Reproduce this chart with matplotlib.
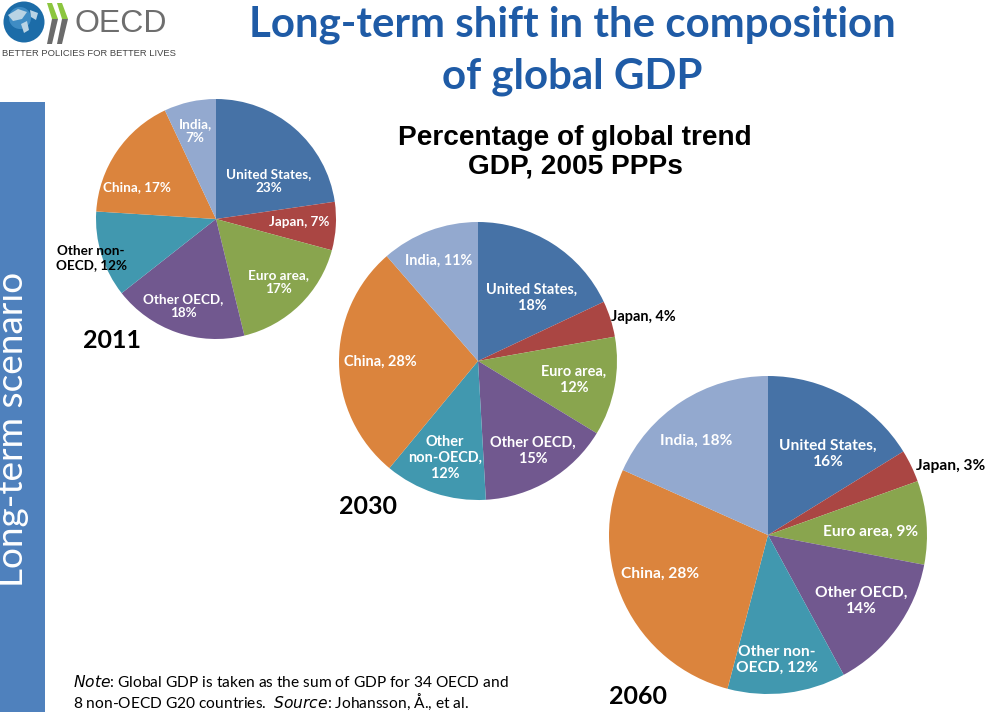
#!/usr/bin/env python3
"""Long-term shift in the composition of global GDP - slide with three pies."""
import matplotlib
matplotlib.use('Agg')
import matplotlib.pyplot as plt
from matplotlib.patches import Circle, Polygon, Rectangle

W, H = 1007, 712

plt.rcParams['font.family'] = ['Lato', 'DejaVu Sans']

# Shares measured off the slices, the labels carry the rounded numbers
CATEGORIES = ["United States", "Japan", "Euro area", "Other OECD",
              "Other non-OECD", "China", "India"]
SHARES_2011 = [22.7, 6.5, 17.0, 18.2, 11.6, 17.0, 7.0]
SHARES_2030 = [18.0, 4.2, 11.5, 15.4, 11.9, 27.6, 11.4]
SHARES_2060 = [16.2, 3.3, 8.5, 14.1, 12.0, 27.6, 18.3]
COLORS = ["#4672A6", "#AA4643", "#89A54E", "#71588F",
          "#4198AF", "#DB843D", "#93A9CF"]

LABELS_2011 = ["United States,\n23%", "Japan, 7%", "Euro area,\n17%", "Other OECD,\n18%",
               "Other non-\nOECD, 12%", "China, 17%", "India,\n7%"]
LABELS_2030 = ["United States,\n18%", "Japan, 4%", "Euro area,\n12%", "Other OECD,\n15%",
               "Other\nnon-OECD,\n12%", "China, 28%", "India, 11%"]
LABELS_2060 = ["United States,\n16%", "Japan, 3%", "Euro area, 9%", "Other OECD,\n14%",
               "Other non-\nOECD, 12%", "China, 28%", "India, 18%"]


def py(y):
    # reference pixel row -> data y
    return H - y


def draw_pie(ax, shares, labels, cx, cy, radius, label_xy, font_px, dark=()):
    ax.pie(shares, colors=COLORS, startangle=90, counterclock=False,
           center=(cx, py(cy)), radius=radius,
           wedgeprops={'linewidth': 0})
    for i, (label, (x, y)) in enumerate(zip(labels, label_xy)):
        ax.text(x, py(y), label, ha='center', va='center', fontsize=font_px * 0.72,
                fontweight='bold', linespacing=1.22,
                color='black' if i in dark else 'white')


def draw_logo(ax):
    ax.add_patch(Circle((24, py(22)), 20.5, facecolor='#1C6CA8', edgecolor='none'))
    ax.add_patch(Circle((20, py(18)), 11, facecolor='#3F8CC4', edgecolor='none'))
    land = [[(8, 15), (18, 9), (27, 12), (22, 19), (13, 21)],
            [(21, 24), (27, 21), (29, 30), (24, 33)],
            [(30, 10), (38, 13), (36, 20), (31, 17)]]
    for pts in land:
        ax.add_patch(Polygon([(x, py(y)) for x, y in pts], facecolor='#B9D3E4', edgecolor='none'))
    for dx in (0, 10):
        ax.add_patch(Polygon([(x + dx, py(y)) for x, y in [(47, 3), (52, 3), (58, 19), (52, 19)]],
                             facecolor='#8CC63F', edgecolor='none'))
        ax.add_patch(Polygon([(x + dx, py(y)) for x, y in [(52, 19), (58, 19), (52, 44), (47, 44)]],
                             facecolor='#6B6B6B', edgecolor='none'))
    ax.text(74, py(24), "OECD", ha='left', va='center', fontsize=32 * 0.72,
            color='#6E6E6E', family=['Liberation Sans', 'DejaVu Sans'])
    ax.text(2, py(53), "BETTER POLICIES FOR BETTER LIVES", ha='left', va='center',
            fontsize=9.4 * 0.72, color='#444444', family=['Liberation Sans', 'DejaVu Sans'])


def main():
    fig = plt.figure(figsize=(W / 100, H / 100), dpi=100, facecolor='white')
    ax = fig.add_axes([0, 0, 1, 1])

    draw_pie(ax, SHARES_2011, LABELS_2011, 216, 219, 120,
             [(269, 181), (299, 222), (278, 282), (183, 306),
              (91, 258), (137, 187), (195, 131)], 13.5, dark=(4,))
    draw_pie(ax, SHARES_2030, LABELS_2030, 478, 361, 139,
             [(532, 298), (643, 317), (574, 380), (533, 451),
              (445, 458), (380, 362), (439, 261)], 14.5, dark=(1,))
    draw_pie(ax, SHARES_2060, LABELS_2060, 768, 535, 159,
             [(828, 454), (951, 466), (871, 532), (861, 601),
              (777, 660), (660, 574), (696, 441)], 15.5, dark=(1,))

    # Left band
    ax.add_patch(Rectangle((0, 0), 45, py(102), facecolor='#4F81BD', edgecolor='none'))
    ax.text(13, py(429), "Long-term scenario", rotation=90, ha='center', va='center',
            color='white', fontsize=37 * 0.72)

    draw_logo(ax)

    ax.text(572, py(25), "Long-term shift in the composition", ha='center', va='center',
            fontsize=42 * 0.72, fontweight='bold', color='#1F5BA6')
    ax.text(572, py(77), "of global GDP", ha='center', va='center',
            fontsize=42 * 0.72, fontweight='bold', color='#1F5BA6')

    ax.text(575, py(152), "Percentage of global trend\nGDP, 2005 PPPs", ha='center', va='center',
            fontsize=28 * 0.72, fontweight='bold', color='black', linespacing=1.13,
            family=['Liberation Sans', 'DejaVu Sans'])

    for year, x, y in [("2011", 112, 341), ("2030", 368, 506), ("2060", 638, 697)]:
        ax.text(x, py(y), year, ha='center', va='center', fontsize=25 * 0.72,
                fontweight='bold', color='black')

    ax.text(73, py(682), r"$\mathit{Note}$: Global GDP is taken as the sum of GDP for 34 OECD and",
            ha='left', va='center', fontsize=15.5 * 0.72, color='black')
    ax.text(73, py(702), r"8 non-OECD G20 countries.  $\mathit{Source}$: Johansson, Å., et al.",
            ha='left', va='center', fontsize=15.5 * 0.72, color='black')

    ax.set_xlim(0, W)
    ax.set_ylim(0, H)
    ax.set_aspect('auto')
    ax.axis('off')

    fig.savefig('out.png', dpi=100, facecolor='white')


if __name__ == "__main__":
    main()
